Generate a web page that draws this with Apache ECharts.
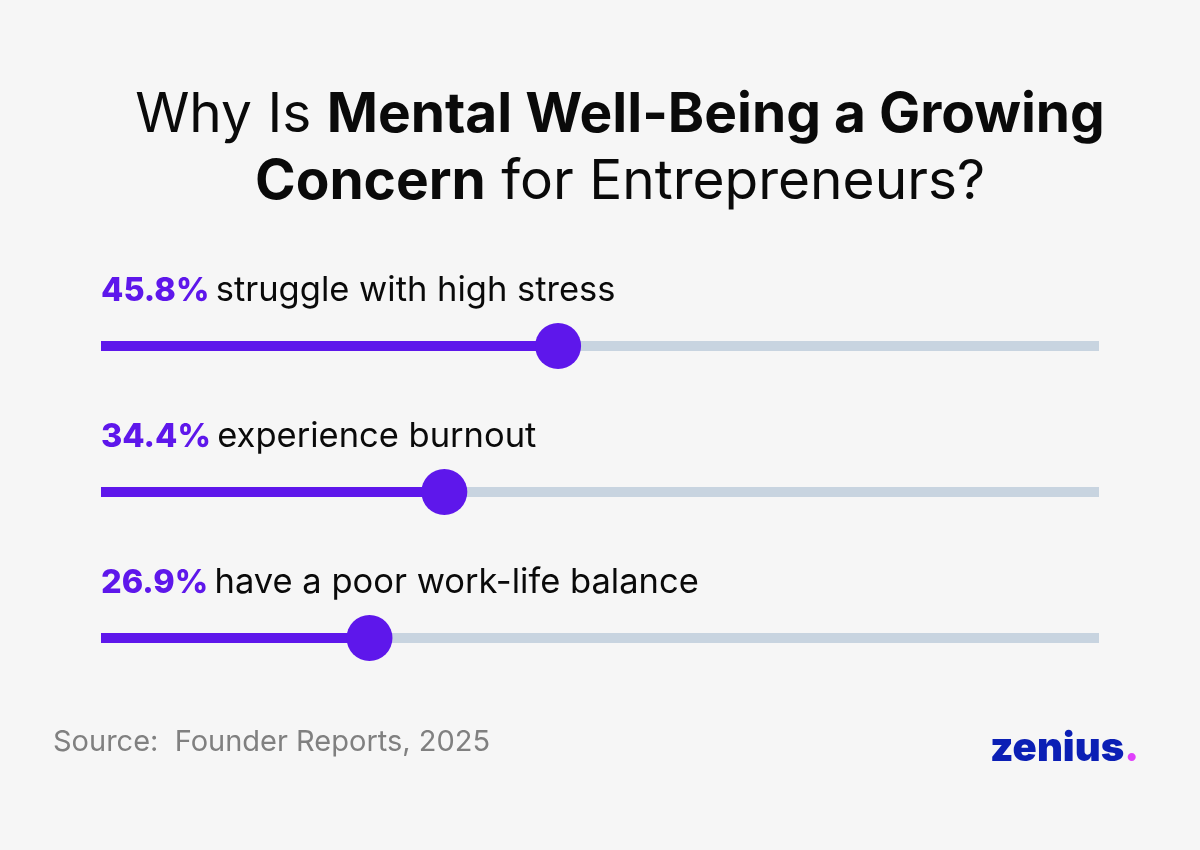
<!DOCTYPE html>
<html>
<head>
<meta charset="utf-8">
<script src="https://cdn.jsdelivr.net/npm/echarts@6/dist/echarts.min.js"></script>
<style>
html,body{margin:0;padding:0;background:#f6f6f6;}
#c{width:1200px;height:850px;}
</style>
</head>
<body>
<div id="c"></div>
<script>
const categories = ['struggle with high stress', 'experience burnout', 'have a poor work-life balance'];
const values = [45.8, 34.4, 26.9];
const valueLabels = ['45.8%', '34.4%', '26.9%'];

const PURPLE = '#5e17eb';
const TRACK = '#c8d4e0';
const FONT = 'Inter, "Noto Sans", sans-serif';

const chart = echarts.init(document.getElementById('c'), null, {renderer: 'canvas'});
chart.setOption({
  backgroundColor: '#f6f6f6',
  animation: false,
  title: {
    left: 615,
    top: 77,
    textAlign: 'center',
    text: '{n|Why Is }{b|Mental Well-Being a Growing}\n{b|Concern}{n| for Entrepreneurs?}',
    textStyle: {
      rich: {
        n: {fontFamily: FONT, fontSize: 55, fontWeight: 400, color: '#0a0a0a', lineHeight: 67},
        b: {fontFamily: FONT, fontSize: 55, fontWeight: 700, color: '#0a0a0a', lineHeight: 67}
      }
    }
  },
  grid: {left: 101, right: 101, top: 273, bottom: 139},
  xAxis: {type: 'value', min: 0, max: 100, show: false},
  yAxis: {type: 'category', data: categories, inverse: true, show: false},
  series: [
    {
      type: 'bar',
      data: values,
      barWidth: 10,
      itemStyle: {color: PURPLE},
      showBackground: true,
      backgroundStyle: {color: TRACK},
      label: {
        show: true,
        position: [0, -50],
        verticalAlign: 'middle',
        align: 'left',
        formatter: function (p) {
          return '{v|' + valueLabels[p.dataIndex] + '} {t|' + categories[p.dataIndex] + '}';
        },
        rich: {
          v: {fontFamily: FONT, fontSize: 32.5, fontWeight: 800, color: PURPLE, padding: [0, 3, 0, 0]},
          t: {fontFamily: FONT, fontSize: 34.5, fontWeight: 400, color: '#0a0a0a'}
        }
      },
      z: 2
    },
    {
      type: 'scatter',
      data: values.map((v, i) => [v, i]),
      symbol: 'circle',
      symbolSize: 46,
      itemStyle: {color: PURPLE, opacity: 1},
      emphasis: {disabled: true},
      z: 3
    }
  ],
  graphic: [
    {
      type: 'text',
      left: 53,
      top: 728,
      style: {
        text: 'Source:  Founder Reports, 2025',
        fontFamily: FONT,
        fontSize: 29,
        fill: '#808080'
      }
    },
    {
      type: 'text',
      left: 990,
      top: 729,
      style: {
        text: '{z|zenius}{d|.}',
        rich: {
          z: {fontFamily: FONT, fontSize: 40, fontWeight: 900, fill: '#0b1fb5', color: '#0b1fb5'},
          d: {fontFamily: FONT, fontSize: 40, fontWeight: 900, fill: '#e040fb', color: '#e040fb'}
        }
      }
    }
  ]
});
</script>
</body>
</html>
